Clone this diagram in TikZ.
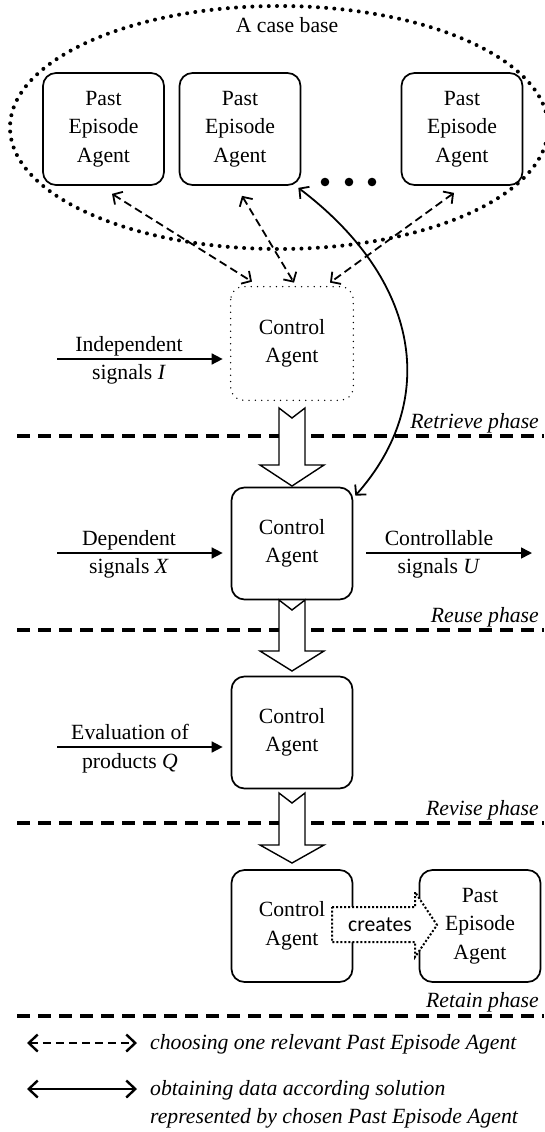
\documentclass[tikz,border=0pt]{standalone}
\usepackage{fontspec}
\setmainfont{Liberation Serif}
\newfontfamily\creafont{Carlito}
\usetikzlibrary{arrows.meta,calc}
\newcommand\downblock[4]{% center x, top, head start, tip
  \draw[blockarr] (#1-13,#2) -- (#1,#2+10) -- (#1+13,#2) -- (#1+13,#3) -- (#1+32,#3)
    -- (#1,#4) -- (#1-32,#3) -- (#1-13,#3) -- cycle;}
\begin{document}
\begin{tikzpicture}[x=1pt,y=-1pt,
  every node/.style={font=\fontsize{21.7}{28.5}\selectfont, inner sep=0pt},
  agent/.style={draw, line width=1.7pt, rounded corners=13pt, minimum width=121pt,
    minimum height=112pt, align=center, fill=white},
  dotagent/.style={agent, draw=none},
  choose/.style={line width=1.8pt, dash pattern=on 8pt off 4.5pt,
    {Straight Barb[length=7pt,width=15pt]}-{Straight Barb[length=7pt,width=15pt]}},
  obtain/.style={line width=1.8pt,
    {Straight Barb[length=7pt,width=15pt]}-{Straight Barb[length=7pt,width=15pt]}},
  signal/.style={line width=1.6pt, -{Triangle[length=11pt,width=11pt]}},
  phaseline/.style={line width=3.2pt, dash pattern=on 13pt off 8pt},
  casebase/.style={line width=4pt, line cap=round, dash pattern=on 0pt off 8.2pt},
  blockarr/.style={draw, fill=white, line width=1.4pt, line join=miter},
  createarr/.style={draw, fill=white, line width=2pt, dash pattern=on 2pt off 2pt},
  phaselabel/.style={anchor=base east, font=\fontsize{21.7}{28.5}\selectfont\itshape},
  legendtext/.style={anchor=base west, font=\fontsize{21.7}{28.5}\selectfont\itshape},
  legarrow/.style={line width=2.4pt,
    {Straight Barb[length=9pt,width=17pt]}-{Straight Barb[length=9pt,width=17pt]}}
]
\path[use as bounding box] (0,0) rectangle (544,1132);

% case base
\draw[casebase] (279,127.5) ellipse [x radius=269pt, y radius=121.5pt];
\node[anchor=base] (cbtitle) at (287,33) {A case base};

\node[agent] (pea1) at (103.5,129) {Past\\Episode\\Agent};
\node[agent] (pea2) at (240,129) {Past\\Episode\\Agent};
\node[agent] (pea3) at (462,129) {Past\\Episode\\Agent};
\fill (325,182) circle (4.3pt) (349,182) circle (4.3pt) (372,182) circle (4.3pt);

% phase lines
\coordinate (pl1a) at (17,436); \coordinate (pl1b) at (544,436);
\coordinate (pl2a) at (17,630); \coordinate (pl2b) at (544,630);
\coordinate (pl3a) at (17,823); \coordinate (pl3b) at (544,823);
\coordinate (pl4a) at (17,1016); \coordinate (pl4b) at (544,1016);
\draw[phaseline] (pl1a) -- (pl1b);
\draw[phaseline] (pl2a) -- (pl2b);
\draw[phaseline] (pl3a) -- (pl3b);
\draw[phaseline] (pl4a) -- (pl4b);
\node[phaselabel] (ph1) at (539,428) {Retrieve phase};
\node[phaselabel] (ph2) at (539,622) {Reuse phase};
\node[phaselabel] (ph3) at (539,815) {Revise phase};
\node[phaselabel] (ph4) at (539,1007) {Retain phase};

% control agents
\node[dotagent] (ca1) at (292,343.5) {Control\\Agent};
\draw[line width=1.5pt, line cap=round, dash pattern=on 0pt off 6.3pt, rounded corners=13pt]
  (ca1.north west) rectangle (ca1.south east);
\node[agent] (ca2) at (292,543.5) {Control\\Agent};
\node[agent] (ca3) at (292,732.5) {Control\\Agent};
\node[agent] (ca4) at (292,926) {Control\\Agent};
\node[agent] (pea4) at (480,926) {Past\\Episode\\Agent};

% block arrows
\downblock{292}{408}{465}{486}
\downblock{292}{600}{651}{671}
\downblock{292}{793}{845}{863}

% creates arrow
\draw[createarr] (332,907) -- (415,907) -- (415,892) -- (437,925) -- (415,957)
  -- (415,942) -- (332,942) -- cycle;
\node[font=\fontsize{21.7}{28.5}\creafont] (creates) at (380,925) {creates};

% choosing connectors
\draw[choose] ($(pea1.south)+(8.5,8)$) -- ($(ca1.north)+(-40,-5)$);
\draw[choose] ($(pea2.south)+(2,10)$) -- ($(ca1.north)+(2,-4)$);
\draw[choose] ($(pea3.south)+(-8,7)$) -- ($(ca1.north)+(38,-4)$);

% obtaining connector
\draw[obtain] ($(pea2.south east)+(-3,2)$) .. controls (420,280) and (440,400) .. ($(ca2.north east)+(2,9)$);

% input / output signals
\coordinate (inI) at (57,359);
\coordinate (inX) at (57,553);
\coordinate (inQ) at (57,747);
\coordinate (outU) at (532,553);
\draw[signal] (inI) -- ($(ca1.west)+(-8,15.5)$);
\draw[signal] (inX) -- ($(ca2.west)+(-8,9.5)$);
\draw[signal] (inQ) -- ($(ca3.west)+(-8,14.5)$);
\draw[signal] ($(ca2.east)+(13,9.5)$) -- (outU);
\node[anchor=base] (lI1) at (129,351) {Independent};
\node[anchor=base] (lI2) at (129,379) {signals \textit{I}};
\node[anchor=base] (lX1) at (129,545) {Dependent};
\node[anchor=base] (lX2) at (129,573) {signals \textit{X}};
\node[anchor=base] (lQ1) at (130,739) {Evaluation of};
\node[anchor=base] (lQ2) at (130,768) {products \textit{Q}};
\node[anchor=base] (lU1) at (439,545) {Controllable};
\node[anchor=base] (lU2) at (439,573) {signals \textit{U}};

% legend
\coordinate (lg1a) at (27,1043); \coordinate (lg1b) at (137,1043);
\coordinate (lg2a) at (27,1089); \coordinate (lg2b) at (137,1089);
\draw[legarrow, dash pattern=on 8pt off 5pt] (lg1a) -- (lg1b);
\draw[legarrow] (lg2a) -- (lg2b);
\node[legendtext] (lt1) at (150,1049) {choosing one relevant Past Episode Agent};
\node[legendtext] (lt2) at (150,1095) {obtaining data according solution};
\node[legendtext] (lt3) at (150,1123) {represented by chosen Past Episode Agent};
\end{tikzpicture}
\end{document}
